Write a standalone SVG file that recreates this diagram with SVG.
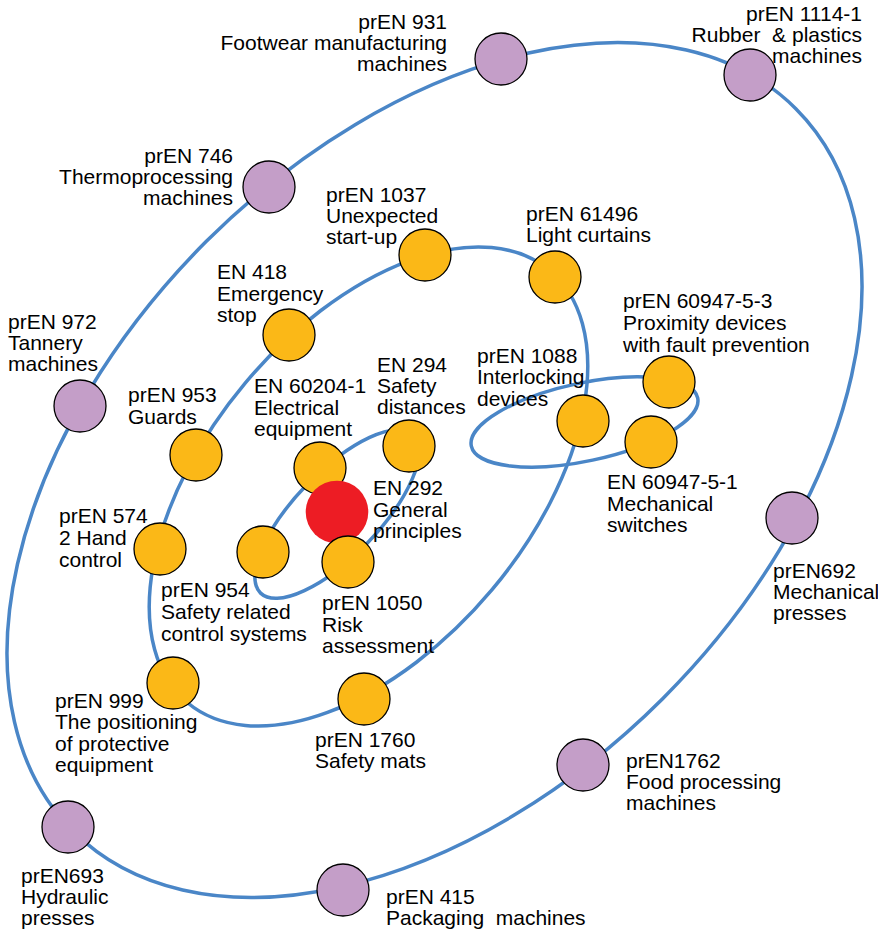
<svg xmlns="http://www.w3.org/2000/svg" width="878" height="932" viewBox="0 0 878 932">
<style>
.ring{fill:none;stroke:#4A86C7;stroke-width:3.5}
.p{fill:#C49EC8;stroke:#000;stroke-width:1.3}
.o{fill:#FBB817;stroke:#000;stroke-width:1.3}
.r{fill:#ED1C24}
text{font-family:"Liberation Sans",Arial,sans-serif;font-size:21px;fill:#000}
.e{text-anchor:end}
</style>
<rect width="878" height="932" fill="#fff"/>
<g id="connectors">
<ellipse class="ring" cx="434.5" cy="470" rx="511" ry="323" transform="rotate(-45 434.5 470)"/>
<ellipse class="ring" cx="368.5" cy="486.5" rx="282" ry="161" transform="rotate(-50 368.5 486.5)"/>
<ellipse class="ring" cx="337" cy="514" rx="110" ry="42" transform="rotate(-46 337 514)"/>
<ellipse class="ring" cx="584.5" cy="422" rx="115.7" ry="39" transform="rotate(-12 584.5 422)"/>
</g>
<g id="n931"><circle class="p" cx="501" cy="59" r="26"/><text class="e" x="447" y="29">prEN 931<tspan x="447" dy="21">Footwear manufacturing</tspan><tspan x="447" dy="21">machines</tspan></text></g>
<g id="n1114"><circle class="p" cx="750" cy="75" r="26"/><text class="e" x="862" y="21" xml:space="preserve">prEN 1114-1<tspan x="862" dy="21">Rubber  &amp; plastics</tspan><tspan x="862" dy="21">machines</tspan></text></g>
<g id="n746"><circle class="p" cx="269" cy="187" r="26"/><text class="e" x="233" y="163">prEN 746<tspan x="233" dy="21">Thermoprocessing</tspan><tspan x="233" dy="21">machines</tspan></text></g>
<g id="n972"><circle class="p" cx="80" cy="406" r="26"/><text x="8" y="329">prEN 972<tspan x="8" dy="21">Tannery</tspan><tspan x="8" dy="21">machines</tspan></text></g>
<g id="n692"><circle class="p" cx="792" cy="518" r="26"/><text x="773" y="578">prEN692<tspan x="773" dy="21">Mechanical</tspan><tspan x="773" dy="21">presses</tspan></text></g>
<g id="n1762"><circle class="p" cx="583" cy="765" r="26"/><text x="626" y="768">prEN1762<tspan x="626" dy="21">Food processing</tspan><tspan x="626" dy="21">machines</tspan></text></g>
<g id="n693"><circle class="p" cx="68" cy="827" r="26"/><text x="21" y="883">prEN693<tspan x="21" dy="21">Hydraulic</tspan><tspan x="21" dy="21">presses</tspan></text></g>
<g id="n415"><circle class="p" cx="343" cy="890" r="26"/><text x="386" y="904" xml:space="preserve">prEN 415<tspan x="386" dy="21">Packaging  machines</tspan></text></g>
<g id="n1037"><circle class="o" cx="425" cy="255" r="26"/><text x="326" y="202">prEN 1037<tspan x="326" dy="21">Unexpected</tspan><tspan x="326" dy="21">start-up</tspan></text></g>
<g id="n61496"><circle class="o" cx="555" cy="277" r="26"/><text x="526" y="221">prEN 61496<tspan x="526" dy="21">Light curtains</tspan></text></g>
<g id="n418"><circle class="o" cx="289" cy="335" r="26"/><text x="217" y="279">EN 418<tspan x="217" dy="21.5">Emergency</tspan><tspan x="217" dy="21.5">stop</tspan></text></g>
<g id="n953"><circle class="o" cx="196" cy="455" r="26"/><text x="128" y="402">prEN 953<tspan x="128" dy="21.5">Guards</tspan></text></g>
<g id="n294"><circle class="o" cx="409" cy="446" r="26"/><text x="377" y="372">EN 294<tspan x="377" dy="21">Safety</tspan><tspan x="377" dy="21">distances</tspan></text></g>
<g id="n60204"><circle class="o" cx="320" cy="468" r="26"/><text x="254" y="393">EN 60204-1<tspan x="254" dy="21.5">Electrical</tspan><tspan x="254" dy="21">equipment</tspan></text></g>
<g id="n292"><circle class="r" cx="337" cy="512" r="31.3"/><text x="373" y="495">EN 292<tspan x="373" dy="21.5">General</tspan><tspan x="373" dy="21">principles</tspan></text></g>
<g id="n1050"><circle class="o" cx="348" cy="562" r="26"/><text x="322" y="610">prEN 1050<tspan x="322" dy="22">Risk</tspan><tspan x="322" dy="21">assessment</tspan></text></g>
<g id="n954"><circle class="o" cx="263" cy="552" r="26"/><text x="161" y="597">prEN 954<tspan x="161" dy="22">Safety related</tspan><tspan x="161" dy="22">control systems</tspan></text></g>
<g id="n574"><circle class="o" cx="160" cy="549" r="26"/><text x="59" y="523">prEN 574<tspan x="59" dy="22">2 Hand</tspan><tspan x="59" dy="22">control</tspan></text></g>
<g id="n1088"><circle class="o" cx="583" cy="421" r="26"/><text x="477" y="363">prEN 1088<tspan x="477" dy="21">Interlocking</tspan><tspan x="477" dy="21.5">devices</tspan></text></g>
<g id="n609473"><circle class="o" cx="669" cy="382" r="26"/><text x="623" y="308">prEN 60947-5-3<tspan x="623" dy="22">Proximity devices</tspan><tspan x="623" dy="21.5">with fault prevention</tspan></text></g>
<g id="n609471"><circle class="o" cx="651" cy="442" r="26"/><text x="607" y="489">EN 60947-5-1<tspan x="607" dy="21.5">Mechanical</tspan><tspan x="607" dy="21">switches</tspan></text></g>
<g id="n999"><circle class="o" cx="173" cy="683" r="26"/><text x="55" y="708">prEN 999<tspan x="55" dy="21">The positioning</tspan><tspan x="55" dy="21.5">of protective</tspan><tspan x="55" dy="21">equipment</tspan></text></g>
<g id="n1760"><circle class="o" cx="364" cy="699" r="26"/><text x="315" y="747">prEN 1760<tspan x="315" dy="21">Safety mats</tspan></text></g>
</svg>
